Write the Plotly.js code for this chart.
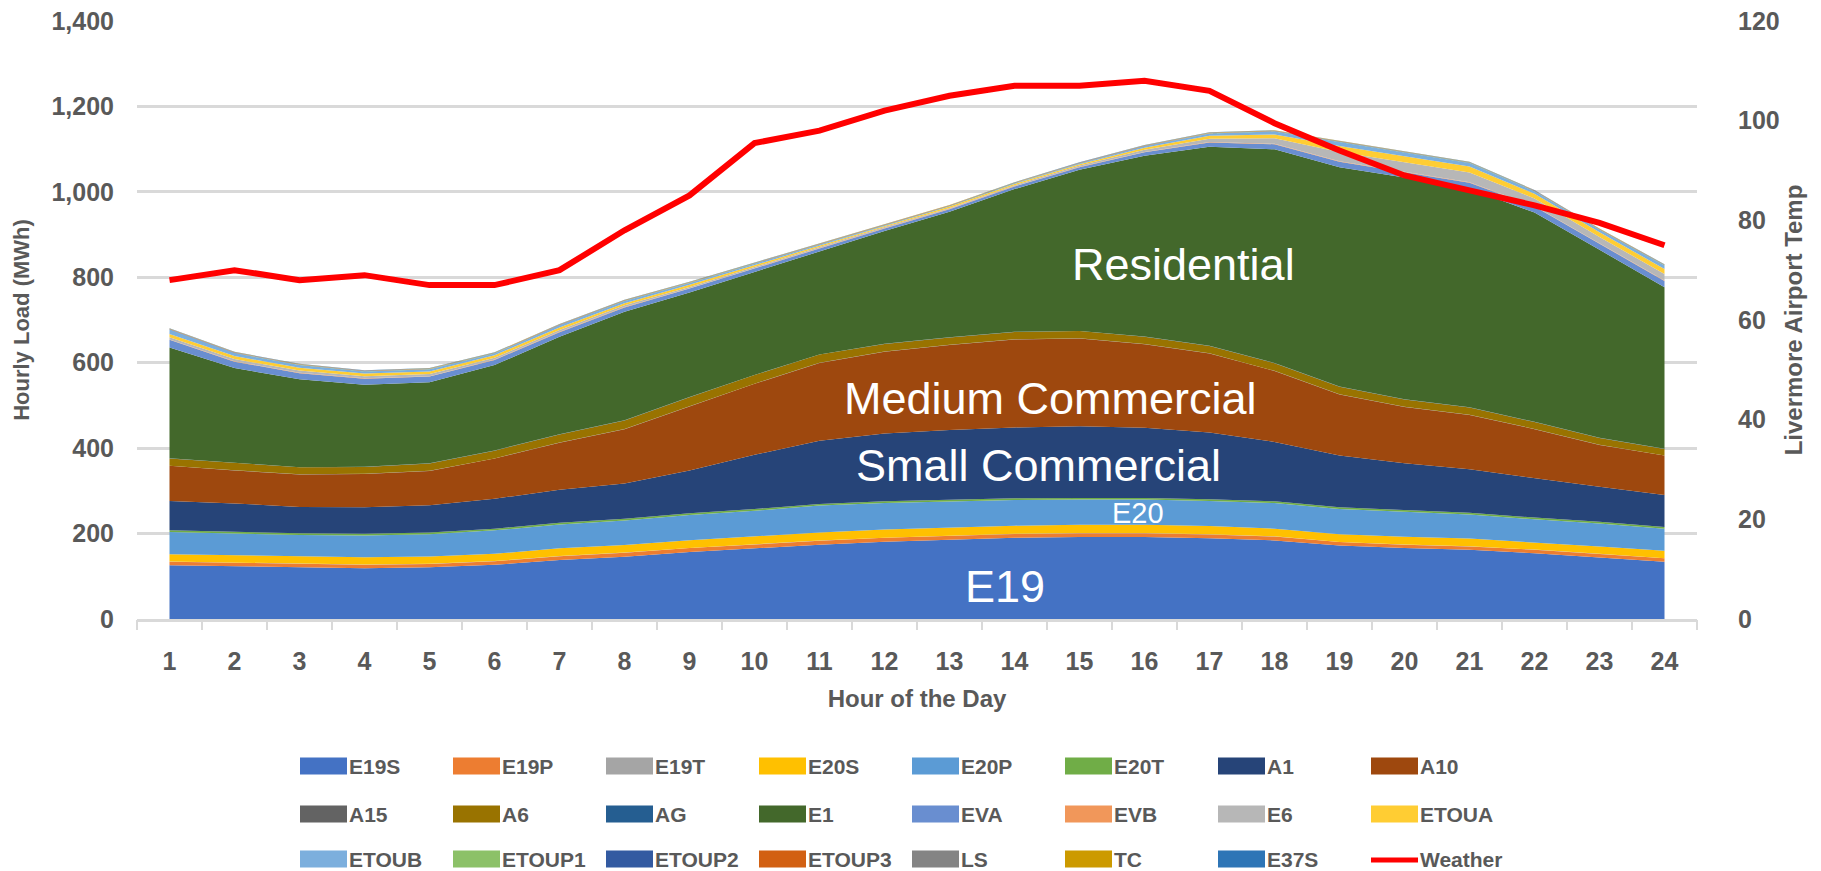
<!DOCTYPE html>
<html>
<head>
<meta charset="utf-8">
<script src="https://cdn.plot.ly/plotly-3.0.1.min.js"></script>
<style>
html,body{margin:0;padding:0;background:#ffffff;}
#chart{width:1821px;height:871px;}
</style>
</head>
<body>
<div id="chart"></div>
<script>
// ---------------- DATA ----------------
const hours = [1,2,3,4,5,6,7,8,9,10,11,12,13,14,15,16,17,18,19,20,21,22,23,24];

const E19S   = [126,124,121,119,121,127,138,146,157,166,174,181,186,190,192,192,189,184,172,166,162,154,144,134];
const E19P   = [8,8,8,8,8,8,9,9,9,9,9,9,9,9,9,9,9,9,8,8,8,8,8,8];
const E19T   = [0.5,0.5,0.5,0.5,0.5,0.5,0.5,0.5,0.5,0.5,0.5,0.5,0.5,0.5,0.5,0.5,0.5,0.5,0.5,0.5,0.5,0.5,0.5,0.5];
const E20S   = [17,17,17,17,17,17,18,18,18,18,19,19,19,19,19,19,19,18,18,18,18,17,17,17];
const E20P   = [52,51,50,51,52,55,56,57,59,60,63,62,61,60,59,59,59,60,59,58,56,54,54,52];
const E20T   = [4,4,4,4,4,4,4,4,4,4,4,4,4,4,4,4,4,4,4,4,4,4,4,4];
const A1     = [69,66,62,62,64,70,77,83,100,127,148,159,163,166,168,164,156,139,121,110,102,92,82,75];
const A10    = [82,77,76,78,80,94,110,127,150,166,182,191,199,206,205,196,185,166,143,132,127,115,98,92];
const A15    = [0.5,0.5,0.5,0.5,0.5,0.5,0.5,0.5,0.5,0.5,0.5,0.5,0.5,0.5,0.5,0.5,0.5,0.5,0.5,0.5,0.5,0.5,0.5,0.5];
const A6     = [17,17,16,16,17,18,19,20,21,20,19,18,17,17,17,17,17,18,18,17,17,16,16,15];
const AG     = [0.5,0.5,0.5,0.5,0.5,0.5,0.5,0.5,0.5,0.5,0.5,0.5,0.5,0.5,0.5,0.5,0.5,0.5,0.5,0.5,0.5,0.5,0.5,0.5];
const E1     = [259,222,206,192,190,200,228,254,245,241,242,264,294,334,377,423,466,500,513,519,512,490,440,378];
const EVA    = [18,15,14,14,13,12,11,10,9,8,7,6,6,6,6,8,10,12,13,13,14,14,14,15];
const EVB    = [1,1,1,1,1,1,1,1,1,1,1,1,1,1,1,1,1,1,1,1,1,1,1,1];
const E6     = [5,5,5,5,5,4,4,4,3,3,2,2,2,2,3,5,8,13,22,22,23,18,15,15];
const ETOUA  = [8,7,7,6,6,6,6,5,5,4,3,3,3,3,3,5,7,9,14,14,14,11,11,12];
const ETOUB  = [10,7,6,5,5,4,5,5,4,3,2,1,1,1,2,3,5,7,9,8,8,6,6,8];
const ETOUP1 = [0.5,0.5,0.5,0.5,0.5,0.5,0.5,0.5,0.5,0.5,0.5,0.5,0.5,0.5,0.5,0.5,0.5,0.5,0.5,0.5,0.5,0.5,0.5,0.5];
const ETOUP2 = [0.5,0.5,0.5,0.5,0.5,0.5,0.5,0.5,0.5,0.5,0.5,0.5,0.5,0.5,0.5,0.5,0.5,0.5,0.5,0.5,0.5,0.5,0.5,0.5];
const ETOUP3 = [0.5,0.5,0.5,0.5,0.5,0.5,0.5,0.5,0.5,0.5,0.5,0.5,0.5,0.5,0.5,0.5,0.5,0.5,0.5,0.5,0.5,0.5,0.5,0.5];
const LS     = [0.5,0.5,0.5,0.5,0.5,0.5,0.5,0.5,0.5,0.5,0.5,0.5,0.5,0.5,0.5,0.5,0.5,0.5,0.5,0.5,0.5,0.5,0.5,0.5];
const TC     = [0.5,0.5,0.5,0.5,0.5,0.5,0.5,0.5,0.5,0.5,0.5,0.5,0.5,0.5,0.5,0.5,0.5,0.5,0.5,0.5,0.5,0.5,0.5,0.5];
const E37S   = [0.5,0.5,0.5,0.5,0.5,0.5,0.5,0.5,0.5,0.5,0.5,0.5,0.5,0.5,0.5,0.5,0.5,0.5,0.5,0.5,0.5,0.5,0.5,0.5];

const weather = [68,70,68,69,67,67,70,78,85,95.5,98,102,105,107,107,108,106,99.5,94,89,86,83,79.5,75];

const seriesNames  = ['E19S','E19P','E19T','E20S','E20P','E20T','A1','A10','A15','A6','AG','E1','EVA','EVB','E6','ETOUA','ETOUB','ETOUP1','ETOUP2','ETOUP3','LS','TC','E37S'];
const seriesValues = [E19S,E19P,E19T,E20S,E20P,E20T,A1,A10,A15,A6,AG,E1,EVA,EVB,E6,ETOUA,ETOUB,ETOUP1,ETOUP2,ETOUP3,LS,TC,E37S];
const weatherName  = 'Weather';

const loadTicks = [0,200,400,600,800,1000,1200,1400];
const tempTicks = [0,20,40,60,80,100,120];

const groupLabels     = ['Residential','Medium Commercial','Small Commercial','E20','E19'];
const groupLabelHours = [16.6, 14.55, 14.37, 15.9, 13.86];
const groupLabelLoads = [829, 517, 359, 248, 77];

// ---------------- STYLE ----------------
const seriesColors = ['#4472C4','#ED7D31','#A5A5A5','#FFC000','#5B9BD5','#70AD47','#264478','#9E480E','#636363','#997300','#255E91','#43682B','#698ED0','#F1975A','#B7B7B7','#FFCD33','#7CAFDD','#8CC168','#335AA1','#D26012','#848484','#CC9A00','#2E75B6'];
const weatherColor = '#FF0000';
const groupLabelSizes = [45,45,45,29,45];
const axisGray = '#595959';
const gridGray = '#D9D9D9';
const FONT = 'Liberation Sans, Arial, sans-serif';

const W = 1821, H = 871;
const M = {l:137, r:124, t:21, b:252};
const plotW = W - M.l - M.r, plotH = H - M.t - M.b;
const px2x = px => (px - M.l) / plotW;
const py2y = py => (H - M.b - py) / plotH;

// ---------------- TRACES ----------------
const traces = seriesNames.map((name, i) => ({
  type: 'scatter',
  mode: 'lines',
  name: name,
  x: hours,
  y: seriesValues[i],
  stackgroup: 'load',
  line: {width: 0, color: seriesColors[i]},
  fillcolor: seriesColors[i],
  showlegend: false,
  hoverinfo: 'x+y+name'
}));

traces.push({
  type: 'scatter',
  mode: 'lines',
  name: weatherName,
  x: hours,
  y: weather,
  xaxis: 'x2',
  yaxis: 'y2',
  line: {color: weatherColor, width: 6},
  showlegend: false
});

// ---------------- LEGEND (custom, 8 columns) ----------------
const legendNames = seriesNames.concat([weatherName]);
const legendColors = seriesColors.concat([weatherColor]);
const legCol0 = 300, legColStep = 153, legRowY = [766, 814, 859];
const swW = 47, swH = 17;
const shapes = [];
const annotations = [];
legendNames.forEach((name, i) => {
  const c = i % 8, r = Math.floor(i / 8);
  const x0 = legCol0 + c * legColStep;
  const yc = legRowY[r];
  if (name === weatherName) {
    shapes.push({type:'line', xref:'paper', yref:'paper',
      x0: px2x(x0), x1: px2x(x0 + swW), y0: py2y(yc + 1), y1: py2y(yc + 1),
      line:{color: legendColors[i], width: 5}});
  } else {
    shapes.push({type:'rect', xref:'paper', yref:'paper',
      x0: px2x(x0), x1: px2x(x0 + swW), y0: py2y(yc + swH/2), y1: py2y(yc - swH/2),
      fillcolor: legendColors[i], line:{width:0}});
  }
  annotations.push({xref:'paper', yref:'paper', x: px2x(x0 + swW), y: py2y(yc),
    xanchor:'left', yanchor:'middle', showarrow:false, text: name,
    font:{family: FONT, size: 21, color: axisGray, weight: 'bold'}});
});

groupLabels.forEach((t, i) => {
  annotations.push({xref:'x', yref:'y', x: groupLabelHours[i], y: groupLabelLoads[i],
    text: t, showarrow:false, xanchor:'center', yanchor:'middle',
    font:{family: FONT, size: groupLabelSizes[i], color:'#FFFFFF'}});
});

const boundaries = hours.map(h => h - 0.5).concat([hours[hours.length-1] + 0.5]);

const layout = {
  width: W, height: H,
  margin: M,
  paper_bgcolor: '#FFFFFF',
  plot_bgcolor: '#FFFFFF',
  showlegend: false,
  font: {family: FONT, color: axisGray},
  xaxis: {
    range: [0.5, 24.5],
    tickmode: 'array', tickvals: hours, ticktext: hours.map(String),
    ticks: '', showgrid: false, zeroline: false,
    showline: true, linecolor: gridGray, linewidth: 2.5,
    tickfont: {family: FONT, size: 25, color: axisGray, weight: 'bold'},
    ticklabelstandoff: 18,
    title: {text: 'Hour of the Day', font: {family: FONT, size: 24, color: axisGray, weight: 'bold'}, standoff: 17},
    fixedrange: true
  },
  xaxis2: {
    overlaying: 'x', anchor: 'y2', side: 'bottom',
    range: [0.5, 24.5],
    tickmode: 'array', tickvals: boundaries,
    ticks: 'outside', ticklen: 10, tickwidth: 2, tickcolor: gridGray,
    showticklabels: false, showgrid: false, zeroline: false, showline: false,
    fixedrange: true
  },
  yaxis: {
    range: [0, 1400],
    tickmode: 'array', tickvals: loadTicks, tickformat: ',',
    ticks: '', showgrid: true, gridcolor: gridGray, gridwidth: 2.5,
    zeroline: false, showline: false,
    tickfont: {family: FONT, size: 25, color: axisGray, weight: 'bold'},
    ticklabelstandoff: 22,
    title: {text: 'Hourly Load (MWh)', font: {family: FONT, size: 22, color: axisGray, weight: 'bold'}, standoff: 15},
    fixedrange: true
  },
  yaxis2: {
    overlaying: 'y', side: 'right', anchor: 'x2',
    range: [0, 120],
    tickmode: 'array', tickvals: tempTicks,
    ticks: '', showgrid: false, zeroline: false, showline: false,
    tickfont: {family: FONT, size: 25, color: axisGray, weight: 'bold'},
    ticklabelstandoff: 40,
    title: {text: 'Livermore Airport Temp', font: {family: FONT, size: 24, color: axisGray, weight: 'bold'}, standoff: 6},
    fixedrange: true
  },
  shapes: shapes,
  annotations: annotations
};

Plotly.newPlot('chart', traces, layout, {displayModeBar: false, responsive: false});
</script>
</body>
</html>
